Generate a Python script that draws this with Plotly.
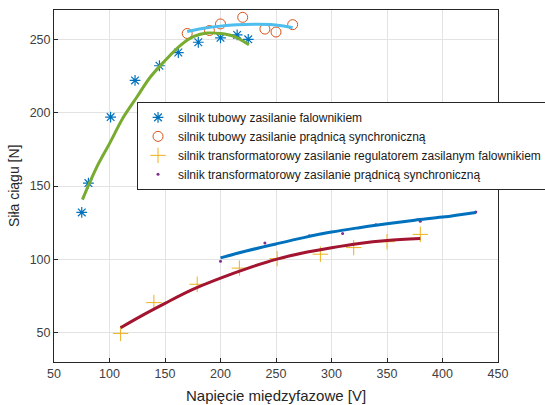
import plotly.graph_objects as go

# Series data
tub_fal_x = [75, 81, 101, 123, 145, 162, 180, 200, 215, 225]
tub_fal_y = [132, 152, 197, 222, 232, 241, 248, 251, 253, 250]

tub_pr_x = [170, 190, 200, 220, 240, 250, 265]
tub_pr_y = [254, 256, 260.5, 265, 257, 255, 260]

tr_reg_x = [110, 140, 179, 217, 251, 290, 320, 350, 380]
tr_reg_y = [49.5, 70.5, 83, 94, 100.5, 103.5, 108, 112, 117]

tr_pr_x = [200, 240, 280, 310, 340, 380, 430]
tr_pr_y = [98.7, 111.2, 116, 117.6, 123.5, 126, 132.2]

# Fitted curves
fit_green_x = [75.6, 88.6, 100, 112.6, 124.7, 136.8, 150.3, 163.9, 176, 188, 200, 212, 225.6]
fit_green_y = [140.7, 163, 178.9, 197, 210.7, 224.3, 235.7, 245.9, 252, 254.3, 253.9, 252, 246.3]

fit_lblue_x = [170, 185, 200, 215, 230, 245, 255, 265]
fit_lblue_y = [255.4, 257.6, 259, 259.9, 260.3, 260.1, 259.3, 258]

fit_blue_x = [200, 225, 250, 275, 300, 325, 350, 375, 400, 430]
fit_blue_y = [101, 106, 110.5, 114.8, 118.6, 121.6, 124.3, 126.7, 128.8, 132]

fit_red_x = [110, 130, 150, 175, 200, 225, 250, 275, 300, 325, 350, 380]
fit_red_y = [53.4, 62, 70, 79.5, 87.2, 94, 100, 104.5, 107.9, 110.8, 112.8, 114.2]

names = [
    "silnik tubowy zasilanie falownikiem",
    "silnik tubowy zasilanie prądnicą synchroniczną",
    "silnik transformatorowy zasilanie regulatorem zasilanym falownikiem",
    "silnik transformatorowy zasilanie prądnicą synchroniczną",
]

x_title = "Napięcie międzyfazowe [V]"
y_title = "Siła ciągu [N]"

x_ticks = [50, 100, 150, 200, 250, 300, 350, 400, 450]
y_ticks = [50, 100, 150, 200, 250]

fig = go.Figure()

fig.add_trace(go.Scatter(x=tub_fal_x, y=tub_fal_y, mode="markers", name=names[0],
                         marker=dict(symbol="asterisk-open", size=9, color="#0072BD",
                                     line=dict(width=1.2, color="#0072BD"))))
fig.add_trace(go.Scatter(x=tub_pr_x, y=tub_pr_y, mode="markers", name=names[1],
                         marker=dict(symbol="circle-open", size=10, color="#D95319",
                                     line=dict(width=1, color="#D95319"))))
fig.add_trace(go.Scatter(x=tr_reg_x, y=tr_reg_y, mode="markers", name=names[2],
                         marker=dict(symbol="cross-thin-open", size=11, color="#EDB120",
                                     line=dict(width=1, color="#EDB120"))))
fig.add_trace(go.Scatter(x=tr_pr_x, y=tr_pr_y, mode="markers", name=names[3],
                         marker=dict(symbol="circle", size=3, color="#7E2F8E")))

fig.add_trace(go.Scatter(x=fit_green_x, y=fit_green_y, mode="lines", showlegend=False,
                         line=dict(color="#77AC30", width=3, shape="spline")))
fig.add_trace(go.Scatter(x=fit_lblue_x, y=fit_lblue_y, mode="lines", showlegend=False,
                         line=dict(color="#4DBEEE", width=3, shape="spline")))
fig.add_trace(go.Scatter(x=fit_blue_x, y=fit_blue_y, mode="lines", showlegend=False,
                         line=dict(color="#0072BD", width=3, shape="spline")))
fig.add_trace(go.Scatter(x=fit_red_x, y=fit_red_y, mode="lines", showlegend=False,
                         line=dict(color="#A2142F", width=3, shape="spline")))

axis_common = dict(
    showline=True, linecolor="#262626", linewidth=1, mirror=True,
    ticks="inside", ticklen=4, tickcolor="#262626",
    showgrid=True, gridcolor="#e3e3e3", gridwidth=1,
    zeroline=False, automargin=False,
    tickfont=dict(family="Liberation Sans, Arial", size=12.5, color="#404040"),
)

fig.update_layout(
    width=545, height=405,
    margin=dict(l=54, r=47, t=10, b=43, autoexpand=False),
    paper_bgcolor="white", plot_bgcolor="white",
    font=dict(family="Liberation Sans, Arial", size=12, color="#262626"),
    xaxis=dict(range=[50, 450], tickvals=x_ticks, **axis_common),
    yaxis=dict(range=[30, 270], tickvals=y_ticks, **axis_common),
    legend=dict(x=0.187, y=0.739, xanchor="left", yanchor="top",
                bgcolor="white", bordercolor="#262626", borderwidth=1,
                font=dict(size=12, color="#1a1a1a"), tracegroupgap=0),
    showlegend=True,
    annotations=[
        dict(text=x_title, xref="paper", yref="paper", x=0.5, y=-0.066,
             xanchor="center", yanchor="top", showarrow=False,
             font=dict(size=15, color="#262626")),
        dict(text=y_title, xref="paper", yref="paper", x=-0.09, y=0.5,
             xanchor="center", yanchor="middle", textangle=-90, showarrow=False,
             font=dict(size=14, color="#262626")),
    ],
)

fig.write_html("out.html", config={"displayModeBar": False},
               post_script="document.body.style.margin='0';document.body.style.padding='0';")
